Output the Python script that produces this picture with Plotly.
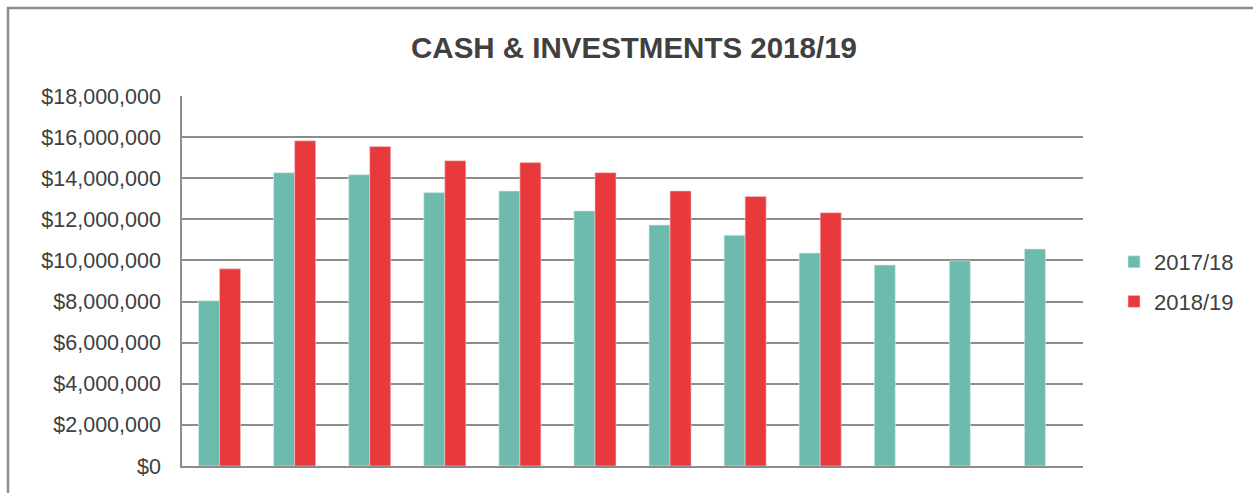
import plotly.graph_objects as go

categories = ["Jul", "Aug", "Sep", "Oct", "Nov", "Dec", "Jan", "Feb", "Mar", "Apr", "May", "Jun"]
series_names = ["2017/18", "2018/19"]
values_2017_18 = [8040000, 14270000, 14170000, 13300000, 13380000, 12410000,
                  11720000, 11230000, 10360000, 9780000, 9980000, 10560000]
values_2018_19 = [9590000, 15820000, 15540000, 14850000, 14760000, 14270000,
                  13380000, 13110000, 12320000, None, None, None]
tick_values = [0, 2000000, 4000000, 6000000, 8000000, 10000000, 12000000, 14000000, 16000000, 18000000]
tick_labels = ["$0", "$2,000,000", "$4,000,000", "$6,000,000", "$8,000,000", "$10,000,000",
               "$12,000,000", "$14,000,000", "$16,000,000", "$18,000,000"]

TEAL = "#6cbbae"
RED = "#e8393d"
TEXT = "#404040"
GRID = "#8c8c8c"

fig = go.Figure()
fig.add_trace(go.Bar(x=categories, y=values_2017_18, name=series_names[0], legendgroup="a",
                     marker=dict(color=TEAL, line=dict(color="#d8eeea", width=0.6))))
fig.add_trace(go.Bar(x=categories, y=values_2018_19, name=series_names[1], legendgroup="b",
                     marker=dict(color=RED, line=dict(color="#f5c9ca", width=0.6))))

L, R, T, B = 182, 170, 96, 27
W, H = 1253, 493
pw, ph = W - L - R, H - T - B

fig.update_layout(
    width=W, height=H,
    margin=dict(l=L, r=R, t=T, b=B),
    paper_bgcolor="white", plot_bgcolor="white",
    barmode="group", bargap=0.44, bargroupgap=0.0,
    font=dict(family="Liberation Sans, Arial, sans-serif", color=TEXT),
    title=dict(text="<b>CASH &amp; INVESTMENTS 2018/19</b>", x=634 / W, xanchor="center",
               y=1 - 48 / H, yanchor="middle",
               font=dict(size=29.5, color=TEXT, family="Liberation Sans, Arial, sans-serif")),
    legend=dict(x=(1114 - L) / pw, y=(466 - 282) / ph, xanchor="left", yanchor="middle",
                font=dict(size=22, color=TEXT), itemwidth=30, tracegroupgap=8,
                bgcolor="rgba(0,0,0,0)"),
    xaxis=dict(showticklabels=False, showgrid=False, showline=True, linecolor=GRID,
               linewidth=2, ticks="", zeroline=False),
    yaxis=dict(range=[0, 18000000], tickvals=tick_values, ticktext=tick_labels,
               showgrid=True, gridcolor=GRID, gridwidth=1.6, showline=True, linecolor=GRID,
               linewidth=1.6, zeroline=False, ticks="", ticklabelstandoff=15,
               tickfont=dict(size=21.5, color=TEXT)),
    showlegend=True,
)

# outer chart frame (left and top edges visible)
fig.add_shape(type="rect", xref="paper", yref="paper",
              x0=(8 - L) / pw, x1=(1262 - L) / pw,
              y0=(466 - 505) / ph, y1=1 + (T - 8) / ph,
              line=dict(color=GRID, width=2.5), fillcolor="rgba(0,0,0,0)", layer="below")

fig.write_html("out.html", config={"displayModeBar": False},
               post_script="document.body.style.margin='0';document.body.style.overflow='hidden';")
